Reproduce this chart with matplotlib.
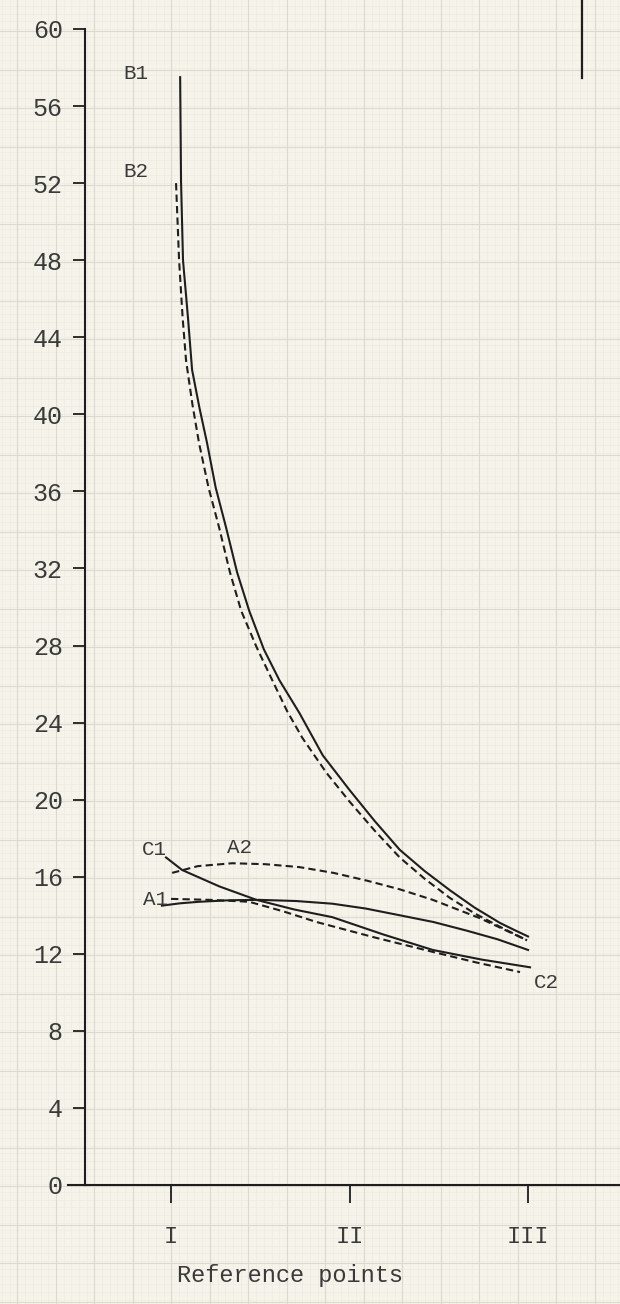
import matplotlib.pyplot as plt
import numpy as np

# values (x: I=1, II=2, III=3)
b1_x = [1.051, 1.056, 1.067, 1.095, 1.118, 1.16, 1.202, 1.25, 1.309, 1.37, 1.438, 1.52, 1.607,
        1.719, 1.85, 2.0, 2.14, 2.281, 2.42, 2.562, 2.70, 2.843, 2.92, 3.0]
b1_y = [57.5, 52.1, 48.0, 45.0, 42.3, 40.3, 38.5, 36.2, 34.1, 31.8, 29.8, 27.8, 26.2,
        24.5, 22.3, 20.5, 18.9, 17.4, 16.3, 15.3, 14.4, 13.6, 13.25, 12.9]

b2_x = [1.028, 1.045, 1.065, 1.084, 1.12, 1.157, 1.21, 1.27, 1.33, 1.393, 1.48, 1.567, 1.65,
        1.736, 1.87, 2.0, 2.14, 2.281, 2.42, 2.562, 2.70, 2.843, 2.994]
b2_y = [52.0, 48.0, 45.0, 42.8, 40.5, 38.5, 36.2, 34.1, 31.8, 29.8, 27.9, 26.2, 24.6,
        23.2, 21.4, 19.9, 18.4, 17.0, 15.9, 14.9, 14.1, 13.4, 12.7]

a1_x = [0.949, 1.05, 1.157, 1.33, 1.494, 1.70, 1.904, 2.09, 2.281, 2.47, 2.657, 2.83, 3.0]
a1_y = [14.5, 14.62, 14.7, 14.78, 14.8, 14.74, 14.6, 14.35, 14.0, 13.65, 13.2, 12.75, 12.2]

a2_x = [1.006, 1.15, 1.343, 1.53, 1.719, 1.91, 2.096, 2.28, 2.466, 2.73, 2.994]
a2_y = [16.2, 16.55, 16.7, 16.65, 16.5, 16.2, 15.8, 15.35, 14.8, 13.85, 12.7]

c1_x = [0.972, 1.062, 1.27, 1.478, 1.69, 1.904, 2.19, 2.466, 2.74, 3.011]
c1_y = [17.0, 16.35, 15.5, 14.8, 14.3, 13.9, 13.0, 12.2, 11.7, 11.3]

c2_x = [1.0, 1.22, 1.438, 1.63, 1.815, 2.14, 2.466, 2.71, 2.955]
c2_y = [14.85, 14.8, 14.7, 14.2, 13.65, 12.85, 12.1, 11.55, 11.05]

curve_labels = ["B1", "B2", "C1", "A2", "A1", "C2"]
label_x = [0.803, 0.803, 0.905, 1.385, 0.915, 3.10]
label_y = [57.7, 52.6, 17.4, 17.5, 14.8, 10.5]

x_ticks = [1, 2, 3]
x_ticklabels = ["I", "II", "III"]
y_ticks = list(range(0, 61, 4))

paper = "#f5f3ea"
ink = "#1e1e1e"
type_ink = "#3a3a3a"
mono = "Liberation Mono"
dash = (0, (3.5, 2))

fig = plt.figure(figsize=(6.2, 13.04), dpi=100, facecolor=paper)

# graph paper background in pixel coordinates
bg = fig.add_axes([0, 0, 1, 1], zorder=0)
bg.set_xlim(0, 620)
bg.set_ylim(1304, 0)
bg.set_facecolor(paper)
for v in np.arange(2, 620, 7.7):
    bg.axvline(v, color="#ecebe1", lw=0.4)
for v in np.arange(6, 1304, 7.7):
    bg.axhline(v, color="#ecebe1", lw=0.4)
for v in np.arange(17, 620, 38.5):
    bg.axvline(v, color="#dcdacd", lw=0.8)
for v in np.arange(31, 1304, 38.5):
    bg.axhline(v, color="#dcdacd", lw=0.8)
# stray pen stroke at the top right of the sheet
bg.plot([582, 582], [0, 78], color=ink, lw=1.6)
# x axis line running a little past the y axis
bg.plot([68, 86], [1185, 1185], color=ink, lw=1.5)
bg.axis("off")

ax = fig.add_axes([85 / 620, (1304 - 1185) / 1304, 535 / 620, 1156 / 1304], zorder=1)
ax.patch.set_alpha(0)
ax.set_xlim(0.518, 3.515)
ax.set_ylim(0, 60)

ax.plot(b1_x, b1_y, color=ink, lw=1.5)
ax.plot(b2_x, b2_y, color=ink, lw=1.5, linestyle=dash)
ax.plot(a1_x, a1_y, color=ink, lw=1.5)
ax.plot(a2_x, a2_y, color=ink, lw=1.5, linestyle=dash)
ax.plot(c1_x, c1_y, color=ink, lw=1.5)
ax.plot(c2_x, c2_y, color=ink, lw=1.5, linestyle=dash)

for lab, lx, ly in zip(curve_labels, label_x, label_y):
    ax.text(lx, ly, lab, ha="center", va="center", fontsize=15,
            family=mono, color=type_ink)

for s in ["top", "right"]:
    ax.spines[s].set_visible(False)
ax.spines["left"].set_linewidth(1.5)
ax.spines["bottom"].set_linewidth(1.5)
ax.spines["left"].set_color(ink)
ax.spines["bottom"].set_color(ink)

ax.set_yticks(y_ticks)
ax.set_yticklabels([str(v) for v in y_ticks], family=mono, fontsize=18, color=type_ink)
ax.tick_params(axis="y", direction="out", length=9, width=1.3, pad=7, color=ink)

ax.set_xticks(x_ticks)
ax.set_xticklabels(x_ticklabels, family=mono, fontsize=17, color=type_ink)
ax.tick_params(axis="x", direction="out", length=13, width=1.3, pad=16, color=ink)

ax.text((290 - 85) / 535, -0.078, "Reference points", transform=ax.transAxes,
        ha="center", va="center", fontsize=17, family=mono, color=type_ink)

fig.savefig("out.png", dpi=100, facecolor=paper)
plt.close(fig)
